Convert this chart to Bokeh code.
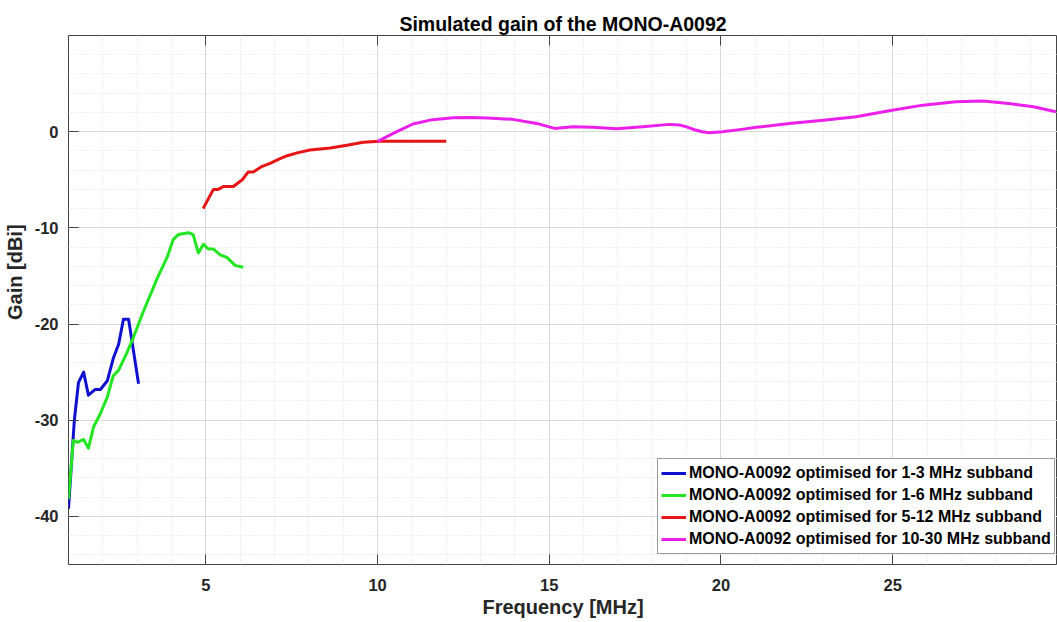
from bokeh.plotting import figure
from bokeh.models import FixedTicker, LinearAxis, Range1d, Legend, LegendItem
from bokeh.embed import file_html
from bokeh.resources import INLINE

# ---- data ----
blue_f = [1.0, 1.17, 1.29, 1.44, 1.58, 1.78, 1.93, 2.13, 2.31, 2.46, 2.6, 2.75, 3.04]
blue_g = [-39.2, -30.0, -26.1, -25.0, -27.4, -26.8, -26.8, -25.9, -23.5, -22.1, -19.5, -19.5, -26.2]

green_f = [1.0, 1.14, 1.26, 1.44, 1.58, 1.73, 1.93, 2.13, 2.3, 2.46, 2.7, 2.9, 3.18, 3.59, 3.88,
           4.05, 4.2, 4.49, 4.63, 4.78, 4.93, 5.07, 5.22, 5.42, 5.62, 5.85, 6.09]
green_g = [-38.2, -32.1, -32.3, -32.0, -32.9, -30.7, -29.3, -27.6, -25.4, -24.8, -23.0, -21.3, -18.7,
           -15.2, -13.0, -11.2, -10.7, -10.5, -10.7, -12.6, -11.7, -12.2, -12.2, -12.8, -13.1, -13.9, -14.1]

red_f = [4.92, 5.22, 5.36, 5.51, 5.8, 6.06, 6.23, 6.38, 6.64, 6.87, 7.16, 7.37, 7.66, 8.03, 8.62,
         9.11, 9.58, 10.07, 11.03, 12.0]
red_g = [-8.0, -6.0, -6.0, -5.7, -5.7, -5.0, -4.2, -4.2, -3.6, -3.3, -2.8, -2.5, -2.2, -1.9, -1.7,
         -1.4, -1.1, -1.0, -1.0, -1.0]

mag_f = [10.0, 10.56, 11.03, 11.6, 12.2, 12.69, 13.2, 13.94, 14.63, 15.16, 15.68, 16.27, 16.96, 17.72,
         18.5, 18.79, 19.0, 19.23, 19.45, 19.66, 20.04, 20.6, 21.03, 21.99, 22.98, 23.94, 24.9, 25.88,
         26.84, 27.63, 28.38, 29.1, 29.75]
mag_g = [-1.0, 0.0, 0.8, 1.25, 1.45, 1.48, 1.42, 1.28, 0.86, 0.34, 0.52, 0.45, 0.31, 0.52, 0.76, 0.69,
         0.5, 0.2, 0.0, -0.1, 0.0, 0.24, 0.45, 0.86, 1.2, 1.55, 2.18, 2.76, 3.1, 3.18, 2.93, 2.6, 2.07]

labels = ["MONO-A0092 optimised for 1-3 MHz subband",
          "MONO-A0092 optimised for 1-6 MHz subband",
          "MONO-A0092 optimised for 5-12 MHz subband",
          "MONO-A0092 optimised for 10-30 MHz subband"]
colors = ["#1010d0", "#22e622", "#e61414", "#ec1eec"]

x_ticks = [5, 10, 15, 20, 25]
x_minor = list(range(1, 31))
y_ticks = [-40, -30, -20, -10, 0]
y_tick_labels = {t: str(t) for t in y_ticks}
y_minor = list(range(-44, 11, 2))

FONT = "Liberation Sans"
TXT = "#262626"

p = figure(width=1057, height=622, output_backend="svg", toolbar_location=None,
           x_range=Range1d(1, 29.8), y_range=Range1d(-45, 10),
           min_border_left=68, min_border_right=0, min_border_top=35, min_border_bottom=58)

p.title.text = "Simulated gain of the MONO-A0092"
p.title.align = "center"
p.title.text_font = FONT
p.title.text_font_size = "19.5px"
p.title.text_font_style = "bold"
p.title.text_color = "#000000"
p.title.standoff = 2

p.outline_line_color = "#444444"
p.outline_line_width = 1
p.background_fill_color = "white"
p.border_fill_color = "white"

for ax in (p.xaxis[0], p.yaxis[0]):
    ax.axis_line_color = None
    ax.major_tick_in = 10
    ax.major_tick_out = 0
    ax.major_tick_line_color = "#444444"
    ax.minor_tick_line_color = None
    ax.major_label_text_font = FONT
    ax.major_label_text_font_size = "16.5px"
    ax.major_label_text_font_style = "bold"
    ax.major_label_text_color = TXT
    ax.axis_label_text_font = FONT
    ax.axis_label_text_font_size = "20px"
    ax.axis_label_text_font_style = "bold"
    ax.axis_label_text_color = TXT

p.xaxis[0].ticker = FixedTicker(ticks=x_ticks, minor_ticks=x_minor)
p.yaxis[0].ticker = FixedTicker(ticks=y_ticks, minor_ticks=y_minor)
p.yaxis[0].major_label_overrides = y_tick_labels
p.xaxis[0].axis_label = "Frequency [MHz]"
# non-breaking padding shifts the label up, as in the reference
p.yaxis[0].axis_label = "\u00a0" * 10 + "Gain [dBi]"
p.xaxis[0].major_label_standoff = 10
p.xaxis[0].axis_label_standoff = 2
p.yaxis[0].major_label_standoff = 6
p.yaxis[0].axis_label_standoff = 6

top = LinearAxis(ticker=FixedTicker(ticks=x_ticks, minor_ticks=[]))
top.axis_line_color = None
top.major_tick_in = 10
top.major_tick_out = 0
top.major_tick_line_color = "#444444"
top.minor_tick_line_color = None
top.major_label_overrides = {t: "" for t in x_ticks}
top.major_label_standoff = 0
p.add_layout(top, "above")

# grids
p.xgrid.ticker = FixedTicker(ticks=x_ticks, minor_ticks=x_minor)
p.ygrid.ticker = FixedTicker(ticks=y_ticks, minor_ticks=y_minor)
for g in (p.xgrid[0], p.ygrid[0]):
    g.grid_line_color = "#d8d8d8"
    g.grid_line_width = 1
    g.minor_grid_line_color = "#dedede"
    g.minor_grid_line_dash = "1 2"
    g.minor_grid_line_width = 1

series = [(blue_f, blue_g), (green_f, green_g), (red_f, red_g), (mag_f, mag_g)]
items = []
for (fx, gy), c, lab in zip(series, colors, labels):
    r = p.line(fx, gy, line_color=c, line_width=3, line_join="round")
    items.append(LegendItem(label=lab, renderers=[r]))

legend = Legend(items=items, location=(589, 10))
legend.label_text_font = FONT
legend.label_text_font_size = "16px"
legend.label_text_font_style = "bold"
legend.label_text_color = "#000000"
legend.glyph_width = 25
legend.glyph_height = 22
legend.label_height = 22
legend.label_standoff = 3
legend.spacing = 0
legend.padding = 3
legend.margin = 0
legend.border_line_color = "#333333"
legend.border_line_width = 1
legend.background_fill_color = "white"
legend.background_fill_alpha = 1
p.add_layout(legend, "center")

open("out.html", "w").write(file_html(p, INLINE))
